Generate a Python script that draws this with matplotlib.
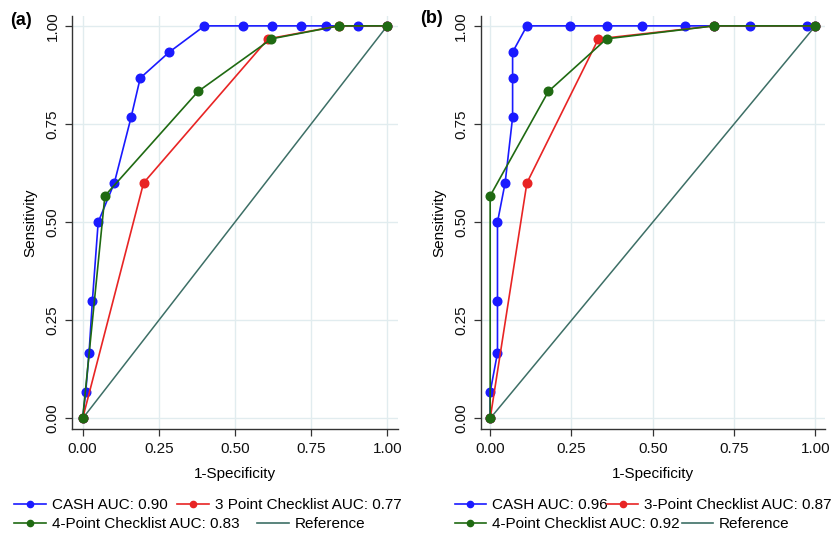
import matplotlib
matplotlib.use("Agg")
import matplotlib.pyplot as plt
from matplotlib.lines import Line2D

plt.rcParams['font.family'] = ['Liberation Sans', 'DejaVu Sans']

# ---------------- data ----------------
# Panel (a)
a_cash_x = [0.0, 0.010, 0.021, 0.032, 0.051, 0.104, 0.159, 0.189, 0.284, 0.400, 0.527, 0.622, 0.717, 0.800, 0.905, 1.0]
a_cash_y = [0.0, 0.067, 0.167, 0.300, 0.500, 0.600, 0.767, 0.867, 0.933, 1.0, 1.0, 1.0, 1.0, 1.0, 1.0, 1.0]
a_p3_x = [0.0, 0.200, 0.609, 0.841, 1.0]
a_p3_y = [0.0, 0.600, 0.967, 1.0, 1.0]
a_p4_x = [0.0, 0.073, 0.379, 0.620, 0.841, 1.0]
a_p4_y = [0.0, 0.567, 0.833, 0.967, 1.0, 1.0]

# Panel (b)
b_cash_x = [0.0, 0.0, 0.0225, 0.0225, 0.0225, 0.046, 0.069, 0.069, 0.069, 0.113, 0.246, 0.358, 0.468, 0.600, 0.689, 0.800, 0.975, 1.0]
b_cash_y = [0.0, 0.067, 0.167, 0.300, 0.500, 0.600, 0.767, 0.867, 0.933, 1.0, 1.0, 1.0, 1.0, 1.0, 1.0, 1.0, 1.0, 1.0]
b_p3_x = [0.0, 0.113, 0.333, 0.689, 1.0]
b_p3_y = [0.0, 0.600, 0.967, 1.0, 1.0]
b_p4_x = [0.0, 0.0, 0.179, 0.358, 0.689, 1.0]
b_p4_y = [0.0, 0.567, 0.833, 0.967, 1.0, 1.0]

ref_x = [0.0, 1.0]
ref_y = [0.0, 1.0]

ticks = [0.0, 0.25, 0.5, 0.75, 1.0]
tick_labels = ["0.00", "0.25", "0.50", "0.75", "1.00"]

a_labels = ["CASH AUC: 0.90", "3 Point Checklist AUC: 0.77", "4-Point Checklist AUC: 0.83", "Reference"]
b_labels = ["CASH AUC: 0.96", "3-Point Checklist AUC: 0.87", "4-Point Checklist AUC: 0.92", "Reference"]

# ---------------- styles ----------------
C_BLUE = "#1a1aff"
C_RED = "#e82424"
C_GREEN = "#1f6a12"
C_REF = "#3d6f66"
GRID = "#e1ecef"
FS = 11

fig = plt.figure(figsize=(8.4, 5.35), dpi=100)
ax_a = fig.add_axes([0.0857, 0.198, 0.388, 0.772])
ax_b = fig.add_axes([0.5723, 0.198, 0.410, 0.772])

def draw(ax, cash, p3, p4, xlim):
    ax.plot(ref_x, ref_y, color=C_REF, lw=1.1, zorder=2)
    ax.plot(cash[0], cash[1], color=C_BLUE, lw=1.2, marker='o', ms=6.2, zorder=3)
    ax.plot(p3[0], p3[1], color=C_RED, lw=1.2, marker='o', ms=6.2, zorder=4)
    ax.plot(p4[0], p4[1], color=C_GREEN, lw=1.2, marker='o', ms=6.2, zorder=5)
    ax.set_xlim(*xlim)
    ax.set_ylim(-0.027, 1.025)
    ax.set_xticks(ticks)
    ax.set_xticklabels(tick_labels)
    ax.set_yticks(ticks)
    ax.set_yticklabels(tick_labels, rotation=90, va='center')
    ax.grid(True, color=GRID, lw=1.0)
    ax.set_axisbelow(True)
    for s in ['top', 'right']:
        ax.spines[s].set_visible(False)
    for s in ['left', 'bottom']:
        ax.spines[s].set_color('#333333')
        ax.spines[s].set_linewidth(1.0)
    ax.tick_params(axis='both', direction='out', length=5, width=0.9, color='#333333',
                   labelsize=FS, labelcolor='#111111', pad=4)
    ax.set_xlabel("1-Specificity", fontsize=FS, labelpad=8)
    ax.set_ylabel("Sensitivity", fontsize=FS, labelpad=6)

draw(ax_a, (a_cash_x, a_cash_y), (a_p3_x, a_p3_y), (a_p4_x, a_p4_y), (-0.035, 1.035))
draw(ax_b, (b_cash_x, b_cash_y), (b_p3_x, b_p3_y), (b_p4_x, b_p4_y), (-0.029, 1.03))

fig.text(0.012, 0.962, "(a)", fontsize=13, fontweight='bold', va='center')
fig.text(0.500, 0.966, "(b)", fontsize=13, fontweight='bold', va='center')

def handle(color, marker=True):
    return Line2D([0], [0], color=color, lw=1.2, marker='o' if marker else None, ms=4.5)

def legends(labels, x0, hl, sp1, sp2):
    h1 = [handle(C_BLUE), handle(C_RED)]
    h2 = [handle(C_GREEN), handle(C_REF, False)]
    fig.legend(h1, labels[:2], loc='center left', bbox_to_anchor=(x0, 1 - 505 / 535),
               ncol=2, frameon=False, fontsize=FS, handlelength=hl,
               handletextpad=0.4, columnspacing=sp1, borderpad=0, borderaxespad=0)
    fig.legend(h2, labels[2:], loc='center left', bbox_to_anchor=(x0, 1 - 524 / 535),
               ncol=2, frameon=False, fontsize=FS, handlelength=hl,
               handletextpad=0.4, columnspacing=sp2, borderpad=0, borderaxespad=0)

legends(a_labels, 14 / 840, 2.1, 0.6, 1.1)
legends(b_labels, 455 / 840, 2.0, 0.0, 0.2)

fig.savefig("out.png", dpi=100)
